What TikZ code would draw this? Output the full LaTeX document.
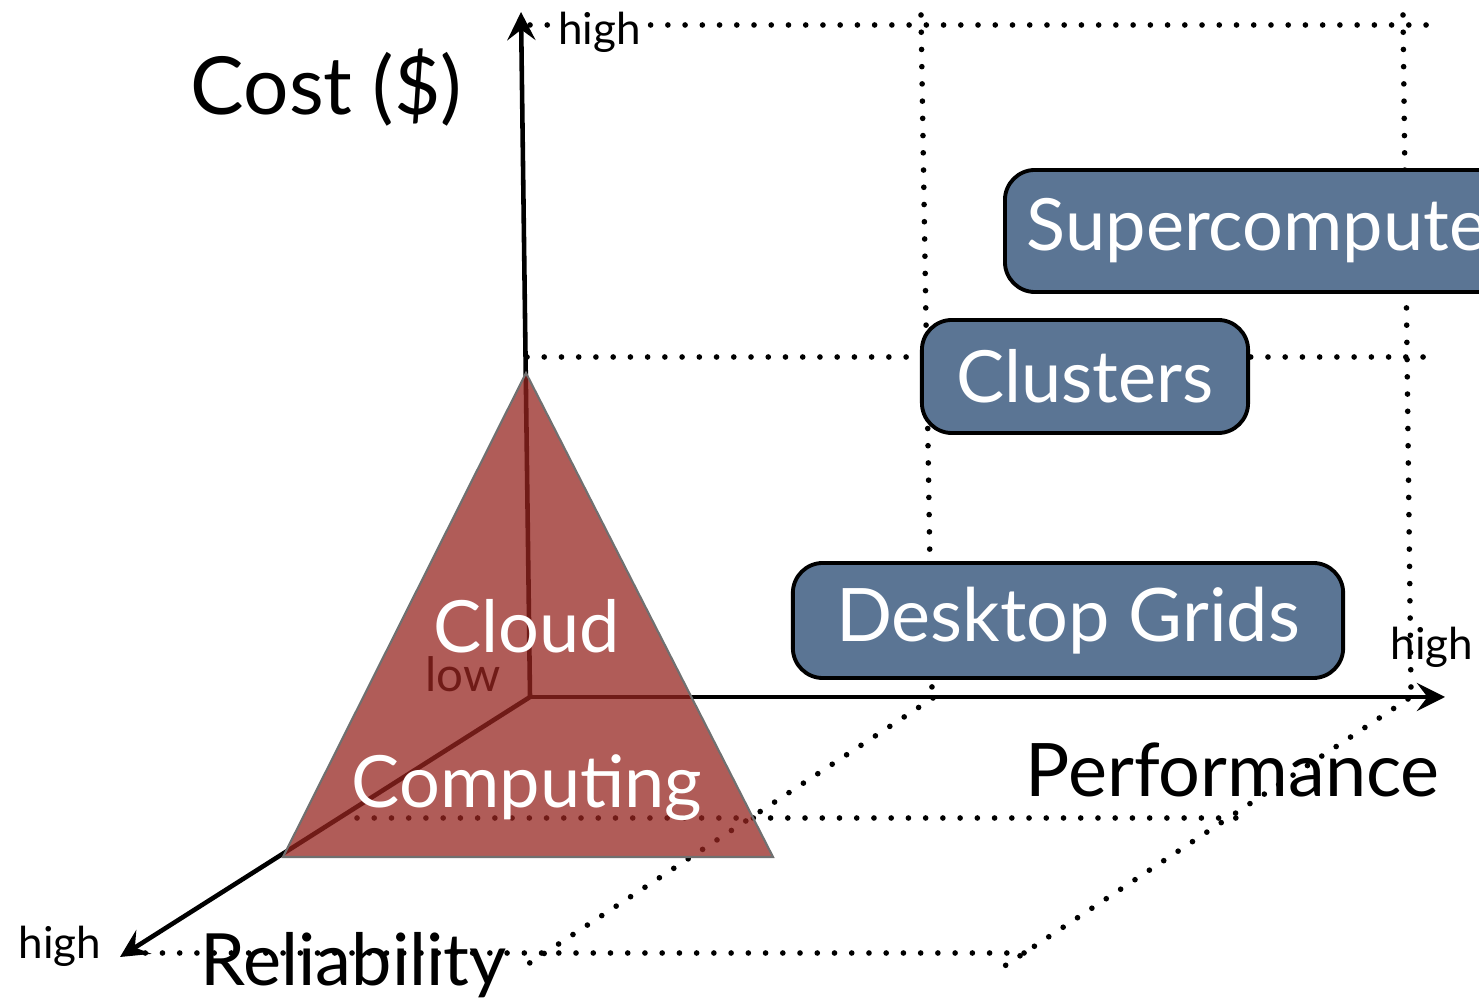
\documentclass[tikz,border=0pt]{standalone}
\usepackage{fontspec}
\setmainfont{Lato}
\usetikzlibrary{arrows.meta}

\definecolor{boxblue}{RGB}{91,117,148}
\definecolor{cloudred}{RGB}{150,37,32}
\definecolor{edgegrey}{RGB}{112,112,112}

\newcommand\titlefont{\fontsize{20.5pt}{24pt}\selectfont}
\newcommand\widefont{\fontsize{21pt}{25pt}\selectfont}
\newcommand\headfont{\fontsize{22.8pt}{26pt}\selectfont}
\newcommand\tagfont{\fontsize{12.5pt}{14pt}\selectfont}

\tikzset{
  axisline/.style={line width=1.3pt, -{Stealth[length=8pt,width=8pt,inset=3pt]}},
  guide/.style={line width=1.6pt, line cap=round, dash pattern=on 0pt off 4.9pt},
  platform/.style={draw=black, line width=1.1pt, fill=boxblue, rounded corners=0.3cm,
    text=white, font=\titlefont, inner sep=0pt},
  biglabel/.style={font=\titlefont, inner sep=0pt, anchor=base west},
  smalllabel/.style={font=\tagfont, inner sep=0pt, anchor=base west},
}

\begin{document}
\begin{tikzpicture}[x=0.01cm, y=-0.01cm]
\useasboundingbox (0,0) rectangle (1479,1007);
\clip (0,0) rectangle (1479,1007);

% axis end points
\coordinate (O) at (530,697);
\coordinate (costhigh) at (521,12);
\coordinate (perfhigh) at (1445,697);
\coordinate (relhigh) at (120,957);

% dotted guide lines of the cube
\draw[guide] (530,25) -- (1432,25);
\draw[guide] (527,357) -- (1430,357);
\draw[guide] (921,15) -- (932,690);
\draw[guide] (1403,15) -- (1411,690);
\draw[guide] (933,698) -- (519,970);
\draw[guide] (1408,699) -- (994,973);
\draw[guide] (357,818) -- (1253,818);
\draw[guide] (128,953) -- (1033,953);

% origin label, seen through the triangle
\node[smalllabel, font=\fontsize{13.5pt}{15pt}\selectfont] (low) at (425,692) {low};

% axes
\draw[axisline] (O) -- (costhigh);
\draw[axisline] (O) -- (perfhigh);
\draw[axisline] (O) -- (relhigh);

% cloud computing triangle
\draw[fill=cloudred, fill opacity=0.75, draw=edgegrey, line width=0.6pt]
  (526,373) -- (773,857) -- (283,857) -- cycle;
\node[font=\titlefont, text=white, inner sep=0pt, anchor=base] (cloud) at (527,653) {Cloud};
\node[font=\titlefont, text=white, inner sep=0pt, anchor=base] (computing) at (527,808) {Computing};

% platforms
\node[platform, anchor=west, minimum height=1.22cm, inner xsep=0.22cm] (super) at (1003,231) {Supercomputers};
\node[platform, minimum width=3.26cm, minimum height=1.13cm] (clusters) at (1085,376.5) {Clusters};
\node[platform, minimum width=5.5cm, minimum height=1.15cm, font=\widefont] (desktop) at (1068,620.5) {Desktop Grids};

% axis labels
\node[biglabel, font=\headfont] (cost) at (190,115) {Cost (\$)};
\node[biglabel, font=\widefont] (perf) at (1025,797) {Performance};
\node[biglabel] (rel) at (200,985) {Reliability};
\node[smalllabel, fill=white, inner xsep=1pt] (costtag) at (554,45) {high};
\node[smalllabel] (perftag) at (1390,660) {high};
\node[smalllabel] (reltag) at (18,958) {high};
\end{tikzpicture}
\end{document}
